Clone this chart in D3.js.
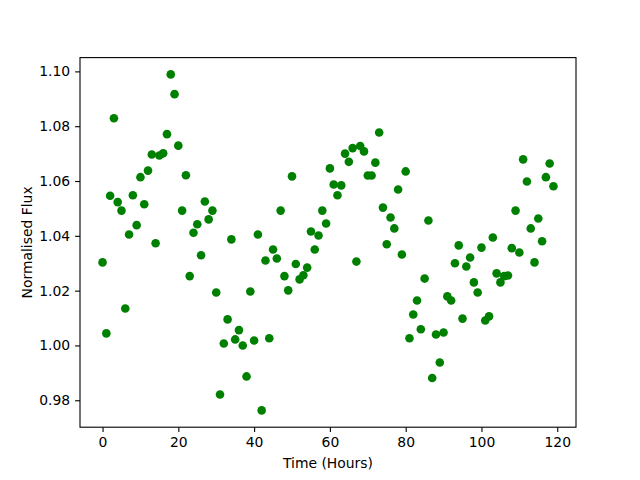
<!DOCTYPE html>
<html>
<head>
<meta charset="utf-8">
<script src="https://cdn.jsdelivr.net/npm/d3@7"></script>
<style>
  body { margin: 0; background: #fff; }
  text { font-family: "DejaVu Sans", sans-serif; }
</style>
</head>
<body>
<div id="chart"></div>
<script>
// hourly samples, 0..119
const hours = d3.range(0, 120);
const flux = [
  1.0303, 1.0044, 1.0546, 1.0829, 1.0523, 1.0492, 1.0135, 1.0405, 1.0548, 1.0439,
  1.0614, 1.0515, 1.0638, 1.0697, 1.0373, 1.0693, 1.0701, 1.0771, 1.0989, 1.0917,
  1.0729, 1.0492, 1.0621, 1.0253, 1.0411, 1.0442, 1.0329, 1.0525, 1.0460, 1.0492,
  1.0193, 0.9821, 1.0007, 1.0095, 1.0387, 1.0022, 1.0056, 1.0000, 0.9887, 1.0197,
  1.0018, 1.0405, 0.9763, 1.0310, 1.0026, 1.0350, 1.0317, 1.0492, 1.0253, 1.0201,
  1.0617, 1.0297, 1.0241, 1.0256, 1.0284, 1.0416, 1.0350, 1.0401, 1.0492, 1.0445,
  1.0646, 1.0587, 1.0548, 1.0584, 1.0700, 1.0670, 1.0720, 1.0306, 1.0728, 1.0708,
  1.0620, 1.0620, 1.0667, 1.0777, 1.0503, 1.0369, 1.0467, 1.0427, 1.0569, 1.0332,
  1.0635, 1.0026, 1.0113, 1.0164, 1.0059, 1.0244, 1.0456, 0.9881, 1.0040, 0.9938,
  1.0047, 1.0179, 1.0164, 1.0300, 1.0365, 1.0098, 1.0288, 1.0321, 1.0230, 1.0193,
  1.0357, 1.0091, 1.0106, 1.0394, 1.0263, 1.0230, 1.0253, 1.0255, 1.0355, 1.0492,
  1.0339, 1.0679, 1.0598, 1.0427, 1.0303, 1.0463, 1.0380, 1.0614, 1.0664, 1.0581
];
const xTicks = [0, 20, 40, 60, 80, 100, 120];
const yTicks = [0.98, 1.00, 1.02, 1.04, 1.06, 1.08, 1.10];

const W = 640, H = 480;
const margin = {top: 57.6, right: 64, bottom: 52.8, left: 80};
const width = W - margin.left - margin.right;
const height = H - margin.top - margin.bottom;

const data = hours.map((h, i) => ({t: h, f: flux[i]}));

// matplotlib style 5% padding
function padded(ext) {
  const r = ext[1] - ext[0];
  return [ext[0] - 0.05 * r, ext[1] + 0.05 * r];
}

const svg = d3.select('#chart')
  .append('svg')
    .attr('width', W)
    .attr('height', H)
  .append('g')
    .attr('transform', 'translate(' + margin.left + ',' + margin.top + ')');

const x = d3.scaleLinear()
  .domain(padded(d3.extent(hours)))
  .range([0, width]);

const y = d3.scaleLinear()
  .domain(padded(d3.extent(flux)))
  .range([height, 0]);

svg.append('g')
  .selectAll('circle')
  .data(data)
  .enter()
  .append('circle')
    .attr('cx', d => x(d.t))
    .attr('cy', d => y(d.f))
    .attr('r', 4.3)
    .style('fill', 'green');

const xAxis = svg.append('g')
  .attr('transform', 'translate(0,' + height + ')')
  .call(d3.axisBottom(x).tickValues(xTicks).tickSize(4.9).tickPadding(4.9).tickSizeOuter(0));

const yAxis = svg.append('g')
  .call(d3.axisLeft(y).tickValues(yTicks).tickFormat(d3.format('.2f')).tickSize(4.9).tickPadding(4.9).tickSizeOuter(0));

[xAxis, yAxis].forEach(a => {
  a.select('.domain').remove();
  a.selectAll('line').attr('stroke', '#000').attr('stroke-width', 1.1);
  a.selectAll('text').attr('fill', '#000').style('font-size', '13.9px')
    .style('font-family', '"DejaVu Sans", sans-serif');
});

// frame
svg.append('rect')
  .attr('width', width)
  .attr('height', height)
  .attr('fill', 'none')
  .attr('stroke', '#000')
  .attr('stroke-width', 1.1);

svg.append('text')
  .attr('x', width / 2)
  .attr('y', height + 41)
  .attr('text-anchor', 'middle')
  .style('font-size', '13.9px')
  .text('Time (Hours)');

svg.append('text')
  .attr('transform', 'translate(' + (32 - margin.left) + ',' + (height / 2) + ') rotate(-90)')
  .attr('text-anchor', 'middle')
  .style('font-size', '13.9px')
  .text('Normalised Flux');
</script>
</body>
</html>
